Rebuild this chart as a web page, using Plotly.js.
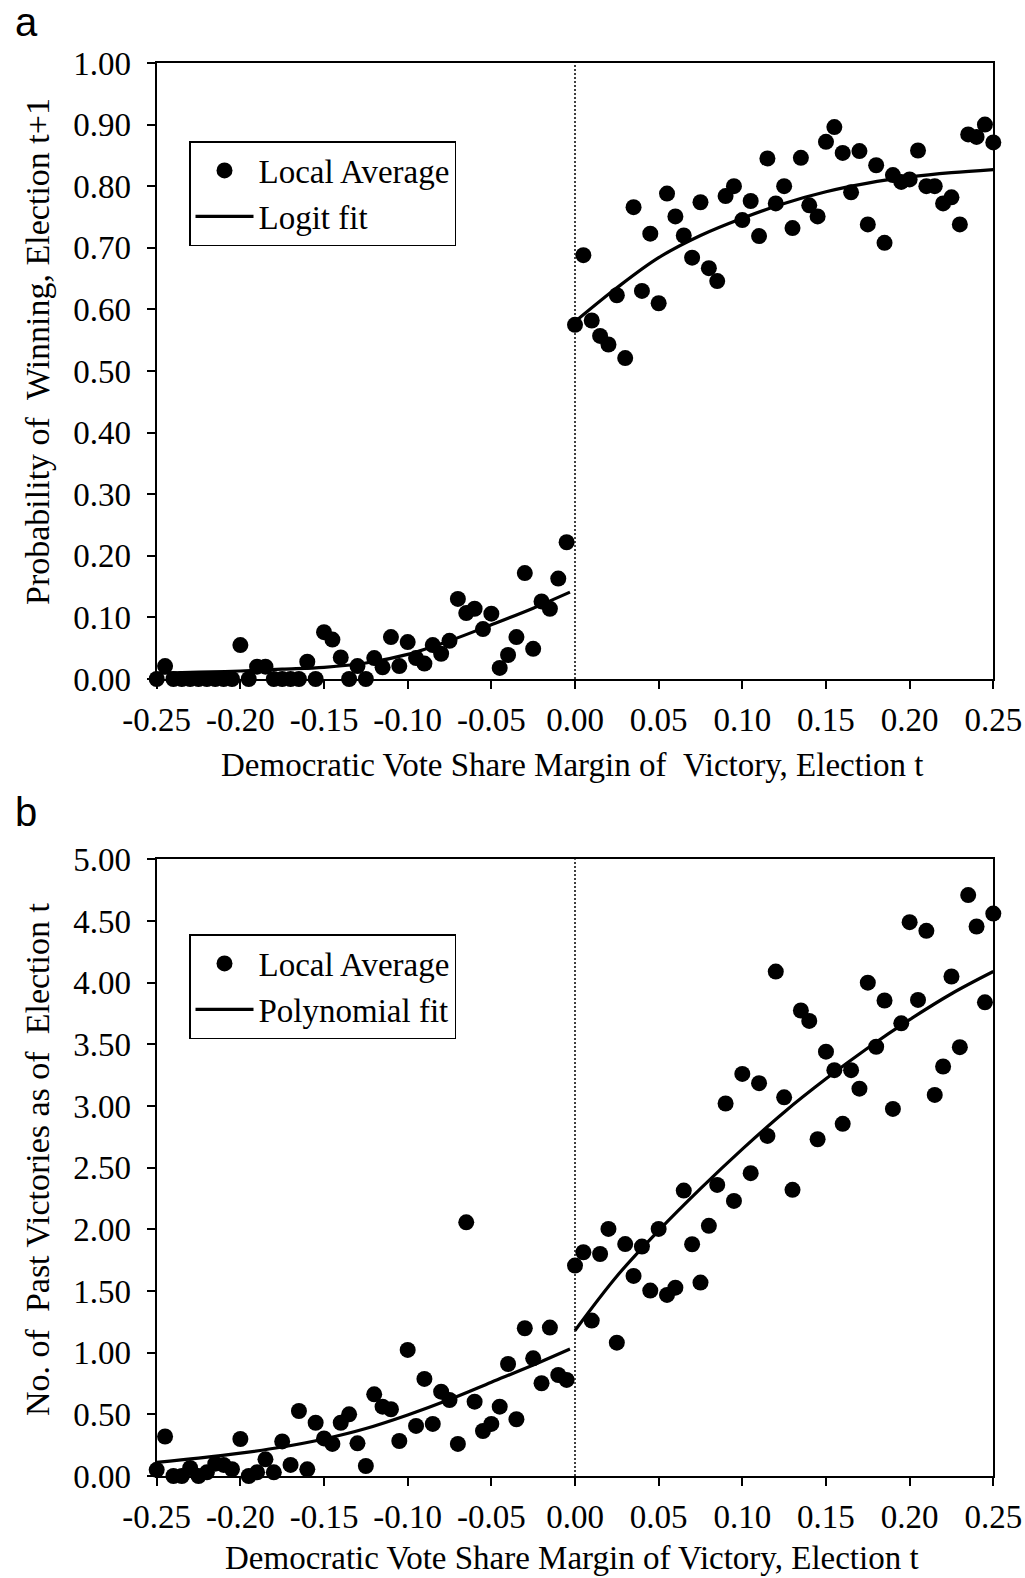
<!DOCTYPE html>
<html>
<head>
<meta charset="utf-8">
<script src="https://cdn.plot.ly/plotly-3.0.1.min.js"></script>
<style>html,body{margin:0;padding:0;background:#fff;}#chart{width:1025px;height:1578px;}</style>
</head>
<body>
<div id="chart"></div>
<script>
// ---------- data ----------
const xLeft = [-0.250,-0.245,-0.240,-0.235,-0.230,-0.225,-0.220,-0.215,-0.210,-0.205,
               -0.200,-0.195,-0.190,-0.185,-0.180,-0.175,-0.170,-0.165,-0.160,-0.155,
               -0.150,-0.145,-0.140,-0.135,-0.130,-0.125,-0.120,-0.115,-0.110,-0.105,
               -0.100,-0.095,-0.090,-0.085,-0.080,-0.075,-0.070,-0.065,-0.060,-0.055,
               -0.050,-0.045,-0.040,-0.035,-0.030,-0.025,-0.020,-0.015,-0.010,-0.005];
const xRight = [0.000,0.005,0.010,0.015,0.020,0.025,0.030,0.035,0.040,0.045,
                0.050,0.055,0.060,0.065,0.070,0.075,0.080,0.085,0.090,0.095,
                0.100,0.105,0.110,0.115,0.120,0.125,0.130,0.135,0.140,0.145,
                0.150,0.155,0.160,0.165,0.170,0.175,0.180,0.185,0.190,0.195,
                0.200,0.205,0.210,0.215,0.220,0.225,0.230,0.235,0.240,0.245,
                0.250];

// Panel a: probability of winning, election t+1
const winLeft = [0.000,0.021,0.000,0.000,0.000,0.000,0.000,0.000,0.000,0.000,
                 0.055,0.000,0.020,0.020,0.000,0.000,0.000,0.000,0.028,0.000,
                 0.076,0.064,0.035,0.000,0.021,0.000,0.034,0.019,0.068,0.021,
                 0.060,0.034,0.025,0.055,0.041,0.062,0.130,0.107,0.114,0.081,
                 0.106,0.018,0.039,0.068,0.172,0.049,0.126,0.114,0.163,0.222];
const winRight = [0.575,0.688,0.582,0.557,0.543,0.623,0.521,0.766,0.630,0.723,
                  0.610,0.788,0.751,0.720,0.684,0.774,0.667,0.646,0.784,0.800,
                  0.745,0.776,0.719,0.845,0.772,0.800,0.732,0.846,0.769,0.751,
                  0.872,0.896,0.854,0.790,0.857,0.738,0.834,0.708,0.818,0.807,
                  0.811,0.858,0.800,0.800,0.772,0.782,0.738,0.884,0.880,0.900,
                  0.871];
const logitXLeft  = [-0.250,-0.225,-0.200,-0.175,-0.150,-0.125,-0.100,-0.075,-0.050,-0.025,-0.003];
const logitYLeft  = [0.009,0.011,0.013,0.016,0.019,0.026,0.040,0.062,0.088,0.115,0.141];
const logitXRight = [0.000,0.025,0.050,0.075,0.100,0.125,0.150,0.175,0.200,0.225,0.250];
const logitYRight = [0.580,0.635,0.684,0.720,0.748,0.772,0.791,0.805,0.815,0.822,0.827];

// Panel b: number of past victories as of election t
const pastLeft = [0.050,0.320,0.000,0.000,0.065,0.000,0.030,0.100,0.090,0.055,
                  0.300,0.000,0.030,0.135,0.030,0.280,0.090,0.527,0.054,0.432,
                  0.305,0.260,0.432,0.500,0.265,0.081,0.662,0.562,0.541,0.284,
                  1.022,0.406,0.787,0.422,0.684,0.616,0.260,2.057,0.603,0.365,
                  0.422,0.562,0.908,0.460,1.198,0.954,0.752,1.203,0.819,0.779];
const pastRight = [1.706,1.814,1.260,1.800,2.003,1.081,1.880,1.622,1.860,1.503,
                   2.003,1.468,1.527,2.314,1.879,1.568,2.028,2.360,3.020,2.230,
                   3.260,2.455,3.185,2.757,4.090,3.070,2.320,3.774,3.690,2.730,
                   3.440,3.290,2.855,3.290,3.140,4.000,3.480,3.855,2.976,3.670,
                   4.490,3.860,4.420,3.090,3.320,4.050,3.477,4.710,4.455,3.840,
                   4.560];
const polyXLeft  = [-0.250,-0.225,-0.200,-0.175,-0.150,-0.125,-0.100,-0.075,-0.050,-0.025,-0.003];
const polyYLeft  = [0.110,0.145,0.185,0.235,0.300,0.385,0.495,0.620,0.760,0.900,1.030];
const polyXRight = [0.000,0.025,0.050,0.075,0.100,0.125,0.150,0.175,0.200,0.225,0.250];
const polyYRight = [1.180,1.620,1.990,2.330,2.650,2.950,3.220,3.470,3.700,3.910,4.090];

// tick labels
const xTickVals = [-0.25,-0.20,-0.15,-0.10,-0.05,0.00,0.05,0.10,0.15,0.20,0.25];
const xTickText = ["-0.25","-0.20","-0.15","-0.10","-0.05","0.00","0.05","0.10","0.15","0.20","0.25"];
const yaTickVals = [0,0.1,0.2,0.3,0.4,0.5,0.6,0.7,0.8,0.9,1.0];
const yaTickText = ["0.00","0.10","0.20","0.30","0.40","0.50","0.60","0.70","0.80","0.90","1.00"];
const ybTickVals = [0,0.5,1,1.5,2,2.5,3,3.5,4,4.5,5];
const ybTickText = ["0.00","0.50","1.00","1.50","2.00","2.50","3.00","3.50","4.00","4.50","5.00"];

// ---------- layout helpers ----------
const W = 1025, H = 1578;
const px = v => v / W;
const py = v => 1 - v / H;
const SERIF = "Liberation Serif, Times New Roman, serif";
const SANS = "Liberation Sans, Arial, sans-serif";
const FS = 33;

const markerStyle = {color: "black", size: 16, symbol: "circle", line: {width: 0}};
const lineStyle = {color: "black", width: 3.2, shape: "spline"};

const traces = [
  {x: xLeft.concat(xRight), y: winLeft.concat(winRight), type: "scatter", mode: "markers",
   name: "Local Average", marker: markerStyle, cliponaxis: false, xaxis: "x", yaxis: "y", legend: "legend"},
  {x: logitXLeft, y: logitYLeft, type: "scatter", mode: "lines", name: "Logit fit",
   line: lineStyle, xaxis: "x", yaxis: "y", legend: "legend"},
  {x: logitXRight, y: logitYRight, type: "scatter", mode: "lines", name: "Logit fit",
   line: lineStyle, showlegend: false, xaxis: "x", yaxis: "y"},
  {x: xLeft.concat(xRight), y: pastLeft.concat(pastRight), type: "scatter", mode: "markers",
   name: "Local Average", marker: markerStyle, cliponaxis: false, xaxis: "x2", yaxis: "y2", legend: "legend2"},
  {x: polyXLeft, y: polyYLeft, type: "scatter", mode: "lines", name: "Polynomial fit",
   line: lineStyle, xaxis: "x2", yaxis: "y2", legend: "legend2"},
  {x: polyXRight, y: polyYRight, type: "scatter", mode: "lines", name: "Polynomial fit",
   line: lineStyle, showlegend: false, xaxis: "x2", yaxis: "y2"}
];

const axisCommon = {
  showline: true, mirror: true, linecolor: "black", linewidth: 2,
  ticks: "outside", ticklen: 8, tickwidth: 2, tickcolor: "black",
  showgrid: false, zeroline: false, fixedrange: true,
  tickfont: {family: SERIF, size: FS, color: "black"}
};
const xDomain = [px(156.7), px(993.3)];

const legendCommon = {
  xanchor: "left", yanchor: "top", bgcolor: "white", bordercolor: "black", borderwidth: 1.5,
  font: {family: SERIF, size: FS, color: "black"}, itemwidth: 58, tracegroupgap: 0
};

const layout = {
  width: W, height: H,
  margin: {l: 0, r: 0, t: 0, b: 0},
  paper_bgcolor: "white", plot_bgcolor: "white",
  showlegend: true,
  xaxis: Object.assign({}, axisCommon, {domain: xDomain, anchor: "y", range: [-0.25, 0.25],
         tickmode: "array", tickvals: xTickVals, ticktext: xTickText, ticklabelstandoff: 2}),
  yaxis: Object.assign({}, axisCommon, {domain: [py(679), py(63)], anchor: "x", range: [0, 1],
         tickmode: "array", tickvals: yaTickVals, ticktext: yaTickText, ticklabelstandoff: 9}),
  xaxis2: Object.assign({}, axisCommon, {domain: xDomain, anchor: "y2", range: [-0.25, 0.25],
         tickmode: "array", tickvals: xTickVals, ticktext: xTickText, ticklabelstandoff: 2}),
  yaxis2: Object.assign({}, axisCommon, {domain: [py(1476), py(859.3)], anchor: "x2", range: [0, 5],
         tickmode: "array", tickvals: ybTickVals, ticktext: ybTickText, ticklabelstandoff: 9}),
  legend: Object.assign({}, legendCommon, {x: px(189), y: py(141)}),
  legend2: Object.assign({}, legendCommon, {x: px(189), y: py(934)}),
  shapes: [
    {type: "line", xref: "x", yref: "y domain", x0: 0, x1: 0, y0: 0, y1: 1, layer: "below",
     line: {color: "black", width: 1.5, dash: "2px,2px"}},
    {type: "line", xref: "x2", yref: "y2 domain", x0: 0, x1: 0, y0: 0, y1: 1, layer: "below",
     line: {color: "black", width: 1.5, dash: "2px,2px"}}
  ],
  annotations: [
    {text: "a", xref: "paper", yref: "paper", x: px(13), y: py(22), xanchor: "left", yanchor: "middle",
     showarrow: false, font: {family: SANS, size: 40, color: "black"}},
    {text: "b", xref: "paper", yref: "paper", x: px(13), y: py(812), xanchor: "left", yanchor: "middle",
     showarrow: false, font: {family: SANS, size: 40, color: "black"}},
    {text: "Democratic Vote Share Margin of \u00a0Victory, Election t", xref: "paper", yref: "paper",
     x: px(572), y: py(765), xanchor: "center", yanchor: "middle", showarrow: false,
     font: {family: SERIF, size: FS, color: "black"}},
    {text: "Democratic Vote Share Margin of Victory, Election t", xref: "paper", yref: "paper",
     x: px(572), y: py(1558), xanchor: "center", yanchor: "middle", showarrow: false,
     font: {family: SERIF, size: FS, color: "black"}},
    {text: "Probability of \u00a0Winning, Election t+1", xref: "paper", yref: "paper",
     x: px(37), y: py(352), xanchor: "center", yanchor: "middle", textangle: -90, showarrow: false,
     font: {family: SERIF, size: 34, color: "black"}},
    {text: "No. of \u00a0Past Victories as of \u00a0Election t", xref: "paper", yref: "paper",
     x: px(37), y: py(1160), xanchor: "center", yanchor: "middle", textangle: -90, showarrow: false,
     font: {family: SERIF, size: 34, color: "black"}}
  ]
};

Plotly.newPlot("chart", traces, layout, {displayModeBar: false, staticPlot: true});
</script>
</body>
</html>
